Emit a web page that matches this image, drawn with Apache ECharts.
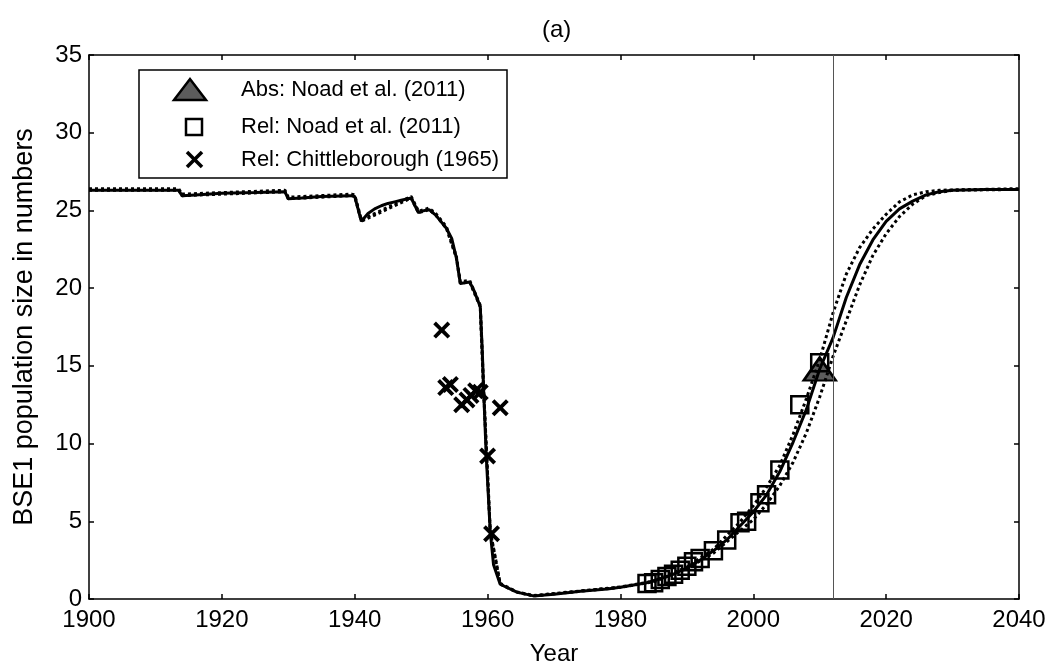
<!DOCTYPE html>
<html>
<head>
<meta charset="utf-8">
<script src="https://cdn.jsdelivr.net/npm/echarts@6/dist/echarts.min.js"></script>
<style>
  html, body { margin: 0; padding: 0; background: #fff; }
  #chart { width: 1050px; height: 671px; }
</style>
</head>
<body>
<div id="chart"></div>
<script>
// model trajectory (median) and the two dotted bounds, [year, numbers]
var solidLine = [
  [1900, 26.3], [1913.5, 26.3], [1914, 25.95], [1916, 26.0], [1920, 26.1], [1925, 26.15], [1929.5, 26.2],
  [1930, 25.75], [1932, 25.8], [1935, 25.9], [1939.5, 25.95], [1940, 25.9], [1941, 24.3], [1942, 24.8],
  [1943, 25.1], [1944, 25.3], [1945, 25.45], [1946, 25.55], [1947, 25.65], [1948.5, 25.8], [1949.6, 24.85],
  [1950, 24.95], [1951.2, 25.05], [1952.2, 24.7], [1953.8, 23.85], [1954.6, 23.2], [1955.3, 21.95],
  [1955.9, 20.3], [1957.3, 20.4], [1958, 19.8], [1958.9, 18.8], [1959.2, 16], [1959.4, 13.5], [1959.8, 9.2],
  [1960.4, 4.35], [1960.9, 2.2], [1961.9, 0.95], [1964.4, 0.44], [1966.9, 0.2], [1970, 0.3], [1974, 0.5],
  [1978, 0.65], [1980, 0.75], [1984, 1.05], [1986, 1.3], [1988, 1.6], [1990, 2.0], [1992, 2.5], [1994, 3.1],
  [1996, 3.8], [1998, 4.7], [2000, 5.6], [2002, 6.7], [2004, 8.2], [2006, 10.1], [2008, 12.2], [2010, 14.8],
  [2012, 16.8], [2014, 19.4], [2016, 21.5], [2018, 23.1], [2020, 24.3], [2022, 25.1], [2024, 25.6],
  [2026, 26.0], [2028, 26.2], [2030, 26.3], [2035, 26.35], [2040, 26.35]
];
var upperLine = [
  [1900, 26.4], [1913.5, 26.4], [1914, 26.05], [1929.5, 26.3], [1930, 25.85], [1939.5, 26.05], [1940, 26.0],
  [1941, 24.4], [1948.5, 25.9], [1949.6, 24.95], [1951.2, 25.15], [1952.2, 24.8], [1953.8, 23.95],
  [1955.3, 22.05], [1955.9, 20.4], [1957.3, 20.5], [1958.9, 18.9], [1959.4, 13.6], [1960.4, 4.4],
  [1961.9, 1.0], [1964.4, 0.46], [1966.9, 0.22], [1974, 0.52], [1980, 0.77], [1985, 1.15], [1990, 2.05],
  [1994, 3.2], [1998, 4.95], [2000, 6.0], [2002, 7.2], [2004, 8.6], [2006, 10.6], [2008, 12.9], [2010, 15.4],
  [2012, 18.4], [2014, 20.9], [2016, 22.6], [2018, 23.8], [2020, 24.75], [2022, 25.55], [2024, 26.0],
  [2026, 26.2], [2028, 26.3], [2040, 26.4]
];
var lowerLine = [
  [1900, 26.3], [1913.5, 26.3], [1914, 25.95], [1929.5, 26.2], [1930, 25.75], [1939.5, 25.95], [1940, 25.9],
  [1941, 24.3], [1948.5, 25.8], [1949.6, 24.85], [1951.2, 25.05], [1952.2, 24.7], [1953.8, 23.85],
  [1955.3, 21.95], [1955.9, 20.3], [1957.3, 20.4], [1958.9, 18.8], [1959.4, 13.5], [1960.4, 4.35],
  [1961.9, 0.95], [1964.4, 0.44], [1966.9, 0.2], [1974, 0.5], [1980, 0.75], [1985, 1.1], [1990, 1.95],
  [1994, 2.95], [1998, 4.4], [2000, 5.1], [2002, 6.1], [2004, 7.3], [2006, 8.8], [2008, 10.7], [2010, 13.0],
  [2012, 15.6], [2014, 17.9], [2016, 20.2], [2018, 22.1], [2020, 23.5], [2022, 24.6], [2024, 25.4],
  [2026, 25.95], [2028, 26.15], [2030, 26.3], [2040, 26.35]
];
// observations
var absNoad = [[2010, 14.8]];
var relNoad = [
  [1984, 1.0], [1985, 1.05], [1986, 1.25], [1987, 1.45], [1988, 1.6], [1989, 1.85], [1990, 2.1],
  [1991, 2.4], [1992, 2.6], [1994, 3.1], [1996, 3.8], [1998, 4.9], [1999, 5.0], [2001, 6.2],
  [2002, 6.7], [2004, 8.3], [2007, 12.5], [2010, 15.2]
];
var relChittle = [
  [1953.1, 17.3], [1953.7, 13.6], [1954.4, 13.8], [1956.1, 12.5], [1956.9, 12.8], [1957.5, 13.1],
  [1958.2, 13.4], [1958.9, 13.3], [1960.0, 9.2], [1960.6, 4.2], [1961.9, 12.3]
];
var legendNames = ['Abs: Noad et al. (2011)', 'Rel: Noad et al. (2011)', 'Rel: Chittleborough (1965)'];
var yearTicks = [1900, 2040, 20];
var sizeTicks = [0, 35, 5];
var markYear = 2012;

var font = 'Arial, "Liberation Sans", sans-serif';
var crossPath = 'path://M0,1.6L1.6,0L5,3.4L8.4,0L10,1.6L6.6,5L10,8.4L8.4,10L5,6.6L1.6,10L0,8.4L3.4,5Z';

var chart = echarts.init(document.getElementById('chart'));

var axisBase = {
  type: 'value',
  axisLine: { show: true, onZero: false, lineStyle: { color: '#000', width: 1.5 } },
  axisTick: { show: true, inside: true, length: 5, lineStyle: { color: '#000', width: 1.5 } },
  splitLine: { show: false }
};
var plainNum = function (v) { return String(v); };

// legend box drawn by hand, MATLAB style
var legendRows = [90, 127, 160];
var legendGraphic = [
  { type: 'rect', z: 100, shape: { x: 139, y: 70, width: 368, height: 108 },
    style: { fill: '#fff', stroke: '#000', lineWidth: 1.5 } },
  { type: 'polygon', z: 101, shape: { points: [[174, 100], [206, 100], [190, 79]] },
    style: { fill: '#5c5c5c', stroke: '#000', lineWidth: 2.5 } },
  { type: 'rect', z: 101, shape: { x: 186, y: 119, width: 16, height: 16 },
    style: { fill: 'none', stroke: '#000', lineWidth: 2.5 } },
  { type: 'line', z: 101, shape: { x1: 187, y1: 152, x2: 202, y2: 167 },
    style: { stroke: '#000', lineWidth: 3.5 } },
  { type: 'line', z: 101, shape: { x1: 187, y1: 167, x2: 202, y2: 152 },
    style: { stroke: '#000', lineWidth: 3.5 } }
];
legendNames.forEach(function (name, i) {
  legendGraphic.push({
    type: 'text', z: 101, x: 241, y: legendRows[i],
    style: { text: name, fill: '#000', font: '22px ' + font, textVerticalAlign: 'middle', verticalAlign: 'middle' }
  });
});

var option = {
  animation: false,
  textStyle: { fontFamily: font },
  title: {
    text: '(a)',
    left: 537,
    top: 13,
    textStyle: { fontFamily: font, fontSize: 24, fontWeight: 'normal', color: '#000' }
  },
  grid: { left: 89, right: 31, top: 55, bottom: 66 },
  graphic: legendGraphic,
  xAxis: [
    Object.assign({}, axisBase, {
      min: yearTicks[0], max: yearTicks[1], interval: yearTicks[2],
      position: 'bottom',
      name: 'Year', nameLocation: 'middle', nameGap: 43,
      nameTextStyle: { fontFamily: font, fontSize: 24, color: '#000' },
      axisLabel: { fontFamily: font, fontSize: 24, color: '#000', margin: 9, formatter: plainNum }
    }),
    Object.assign({}, axisBase, {
      min: yearTicks[0], max: yearTicks[1], interval: yearTicks[2],
      position: 'top',
      axisLabel: { show: false }
    })
  ],
  yAxis: [
    Object.assign({}, axisBase, {
      min: sizeTicks[0], max: sizeTicks[1], interval: sizeTicks[2],
      position: 'left',
      name: 'BSE1 population size in numbers', nameLocation: 'middle', nameGap: 51,
      nameTextStyle: { fontFamily: font, fontSize: 27, color: '#000' },
      axisLabel: { fontFamily: font, fontSize: 24, color: '#000', margin: 7, formatter: plainNum }
    }),
    Object.assign({}, axisBase, {
      min: sizeTicks[0], max: sizeTicks[1], interval: sizeTicks[2],
      position: 'right',
      axisLabel: { show: false }
    })
  ],
  series: [
    {
      name: 'upper', type: 'line', data: upperLine, showSymbol: false, silent: true,
      lineStyle: { color: '#000', width: 3, type: [3, 3] }
    },
    {
      name: 'lower', type: 'line', data: lowerLine, showSymbol: false, silent: true,
      lineStyle: { color: '#000', width: 3, type: [3, 3] }
    },
    {
      name: 'median', type: 'line', data: solidLine, showSymbol: false, silent: true,
      lineStyle: { color: '#000', width: 3 },
      markLine: {
        silent: true,
        symbol: 'none',
        label: { show: false },
        lineStyle: { color: '#555', width: 1, type: 'solid' },
        data: [{ xAxis: markYear }]
      }
    },
    {
      name: legendNames[0], type: 'scatter', data: absNoad,
      symbol: 'triangle', symbolSize: [32, 23],
      itemStyle: { color: '#5c5c5c', borderColor: '#000', borderWidth: 2.5, opacity: 1 }
    },
    {
      name: legendNames[1], type: 'scatter', data: relNoad,
      symbol: 'rect', symbolSize: 17,
      itemStyle: { color: 'rgba(0,0,0,0)', borderColor: '#000', borderWidth: 2.5, opacity: 1 }
    },
    {
      name: legendNames[2], type: 'scatter', data: relChittle,
      symbol: crossPath, symbolSize: 17,
      itemStyle: { color: '#000', opacity: 1 }
    }
  ]
};

chart.setOption(option);
</script>
</body>
</html>
